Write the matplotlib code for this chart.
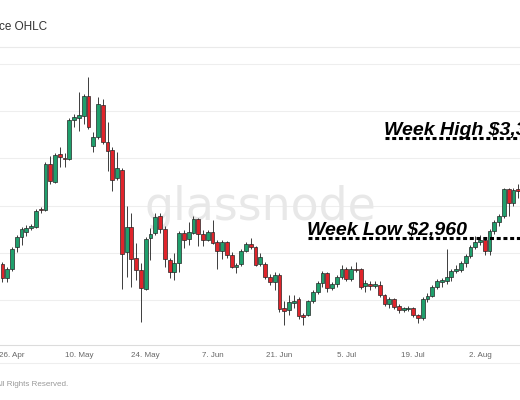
import matplotlib
matplotlib.use('Agg')
import matplotlib.pyplot as plt
import matplotlib.dates as mdates
from matplotlib.lines import Line2D
import numpy as np
import pandas as pd

# daily ETH candles, 24 Apr - 10 Aug 2021
dates = pd.date_range('2021-04-24', '2021-08-10', freq='D')

open_apr = [2383, 2234, 2330, 2564, 2670, 2723, 2766]
open_may = [2777, 2960, 2957, 3436, 3245, 3543, 3500, 3489, 3904, 3926, 3947, 4160, 3628, 3723, 4064, 3670,
            3585, 3287, 3372, 2511, 2777, 2447, 2319, 2117, 2660, 2713, 2894, 2755, 2426, 2298, 2394]
open_jun = [2713, 2649, 2713, 2862, 2702, 2638, 2723, 2617, 2521, 2617, 2479, 2350, 2383, 2521, 2596, 2564,
            2383, 2383, 2245, 2191, 2266, 1915, 1894, 1968, 2011, 1840, 1840, 1989, 2085, 2181]
open_jul = [2287, 2128, 2170, 2245, 2330, 2223, 2330, 2330, 2149, 2170, 2149, 2160, 2053, 1957, 2011, 1936,
            1894, 1904, 1915, 1840, 1809, 2011, 2043, 2138, 2191, 2202, 2245, 2309, 2319, 2394, 2468]
open_aug = [2564, 2617, 2638, 2521, 2734, 2830, 2894, 3170, 3032, 3170]

high_apr = [2404, 2351, 2564, 2691, 2777, 2798, 2809]
high_may = [2968, 2985, 3457, 3521, 3553, 3617, 3560, 3926, 3968, 4202, 4181, 4362, 3777, 4149, 4128, 3883,
            3617, 3564, 3394, 3000, 2926, 2606, 2394, 2670, 2766, 2926, 2926, 2787, 2447, 2500, 2734]
high_jun = [2745, 2830, 2894, 2872, 2745, 2745, 2851, 2638, 2638, 2628, 2511, 2390, 2543, 2617, 2660, 2574,
            2500, 2404, 2277, 2298, 2287, 1989, 2053, 2053, 2032, 1862, 2000, 2106, 2202, 2309]
high_jul = [2298, 2191, 2266, 2372, 2351, 2362, 2404, 2340, 2213, 2202, 2202, 2202, 2064, 2032, 2021, 1957,
            1926, 1936, 1926, 1851, 2032, 2074, 2160, 2223, 2234, 2543, 2330, 2372, 2415, 2489, 2585]
high_aug = [2681, 2691, 2660, 2755, 2851, 2915, 3191, 3191, 3191, 3223]

low_apr = [2191, 2191, 2309, 2511, 2585, 2681, 2745]
low_may = [2766, 2925, 2947, 3223, 3234, 3404, 3404, 3478, 3830, 3787, 3862, 3808, 3564, 3702, 3649, 3362,
           3149, 3266, 2117, 2245, 2138, 2213, 1766, 2106, 2426, 2691, 2713, 2351, 2234, 2213, 2298]
low_jun = [2553, 2585, 2702, 2574, 2574, 2628, 2596, 2330, 2436, 2447, 2340, 2287, 2362, 2511, 2543, 2362,
           2362, 2223, 2160, 2106, 1872, 1734, 1840, 1915, 1798, 1734, 1830, 1968, 2064, 2138]
low_jul = [2085, 2106, 2138, 2223, 2202, 2202, 2298, 2117, 2085, 2106, 2128, 2032, 1936, 1915, 1904, 1862,
           1872, 1883, 1819, 1755, 1787, 1979, 2032, 2117, 2138, 2170, 2202, 2287, 2298, 2351, 2447]
low_aug = [2543, 2585, 2479, 2479, 2702, 2787, 2872, 2894, 3000, 3085]

close_apr = [2234, 2330, 2543, 2670, 2755, 2766, 2787]
close_may = [2947, 2950, 3436, 3255, 3532, 3511, 3490, 3904, 3936, 3957, 4160, 3830, 3723, 4074, 3670, 3574,
             3266, 3394, 2489, 2777, 2436, 2319, 2128, 2649, 2702, 2883, 2755, 2436, 2298, 2394, 2713]
close_jun = [2638, 2723, 2862, 2702, 2638, 2723, 2606, 2521, 2617, 2479, 2351, 2365, 2521, 2596, 2564, 2372,
             2457, 2245, 2191, 2266, 1904, 1883, 1979, 1989, 1830, 1819, 1989, 2085, 2181, 2287]
close_jul = [2128, 2170, 2245, 2330, 2223, 2330, 2319, 2138, 2181, 2149, 2170, 2053, 1957, 2011, 1926, 1894,
             1910, 1912, 1840, 1809, 2011, 2043, 2138, 2202, 2213, 2245, 2309, 2330, 2394, 2468, 2564]
close_aug = [2617, 2638, 2521, 2734, 2830, 2894, 3170, 3032, 3160, 3149]

tick_dates = ['2021-04-26', '2021-05-10', '2021-05-24', '2021-06-07',
              '2021-06-21', '2021-07-05', '2021-07-19', '2021-08-02']
tick_labels = ['26. Apr', '10. May', '24. May', '7. Jun', '21. Jun', '5. Jul', '19. Jul', '2. Aug']
grid_levels = [2000, 2500, 3000, 3500, 4000, 4500]

# hand drawn annotations (level where the dashed line sits, start date, label)
week_low = (2655, '2021-06-27', 'Week Low $2,960')
week_high = (3715, '2021-07-13', 'Week High $3,330')

GREEN = '#1f9f6c'
RED = '#e0242b'

o = np.array(open_apr + open_may + open_jun + open_jul + open_aug, dtype=float)
h = np.array(high_apr + high_may + high_jun + high_jul + high_aug, dtype=float)
l = np.array(low_apr + low_may + low_jun + low_jul + low_aug, dtype=float)
c = np.array(close_apr + close_may + close_jun + close_jul + close_aug, dtype=float)
x = mdates.date2num(dates)

fig = plt.figure(figsize=(5.2, 4), dpi=100)
ax = fig.add_axes([0, 55 / 400, 1, 298 / 400])

base = mdates.date2num(pd.Timestamp('2021-04-26'))
ax.set_xlim(base - 2.513, base + 106.37)
ax.set_ylim(1523, 4679)

# candles
up = c >= o
colors = np.where(up, GREEN, RED)
ax.vlines(x, l, h, color='#3c3c3c', linewidth=0.7, zorder=2)
ax.bar(x, np.maximum(np.abs(c - o), 8), bottom=np.minimum(o, c), width=0.8,
       color=colors, edgecolor='#262626', linewidth=0.5, zorder=3)

# grid / axes look
ax.set_yticks(grid_levels)
ax.yaxis.grid(True, color='#eeeeee', linewidth=0.8)
ax.set_axisbelow(True)
ax.tick_params(axis='y', length=0, labelleft=False)
ax.set_xticks(mdates.date2num(pd.to_datetime(tick_dates)))
ax.set_xticklabels(tick_labels, fontsize=5.8, color='#666666', family='Liberation Sans')
ax.tick_params(axis='x', length=0, pad=5)
for s in ['left', 'right']:
    ax.spines[s].set_visible(False)
ax.spines['top'].set_color('#eaeaea')
ax.spines['top'].set_linewidth(0.8)
ax.spines['bottom'].set_color('#dcdcdc')
ax.spines['bottom'].set_linewidth(0.8)
fig.add_artist(Line2D([0, 1], [1 - 363 / 400] * 2, color='#eeeeee', linewidth=0.8,
                      transform=fig.transFigure))

# watermark
ax.text(0.5, 1 - 220 / 400, 'glassnode', transform=fig.transFigure, ha='center', va='baseline',
        fontsize=33, color='#e8e8e8', zorder=1)

# annotations
for level, start, label in [week_low, week_high]:
    d0 = mdates.date2num(pd.Timestamp(start))
    ax.plot([d0, base + 110], [level, level], color='black', linewidth=2.2,
            dashes=(1.3, 0.9), dash_capstyle='butt', zorder=4, clip_on=False)
    ax.annotate(label, xy=(d0, level), xytext=(-1, 3), textcoords='offset pixels',
                ha='left', va='baseline', fontsize=14, fontweight='bold', fontstyle='italic',
                family='Liberation Sans', color='black', zorder=5, annotation_clip=False)

# title and footer (cut off at the left edge like the original)
fig.text(47 / 520, 1 - 30 / 400, 'Ethereum: Price OHLC', ha='right', va='baseline',
         fontsize=8.5, color='#333333', family='Liberation Sans')
fig.text(68 / 520, 1 - 386 / 400, '\u00a9 2021 Glassnode. All Rights Reserved.', ha='right', va='baseline',
         fontsize=5.8, color='#999999', family='Liberation Sans')

fig.savefig('out.png', dpi=100)
